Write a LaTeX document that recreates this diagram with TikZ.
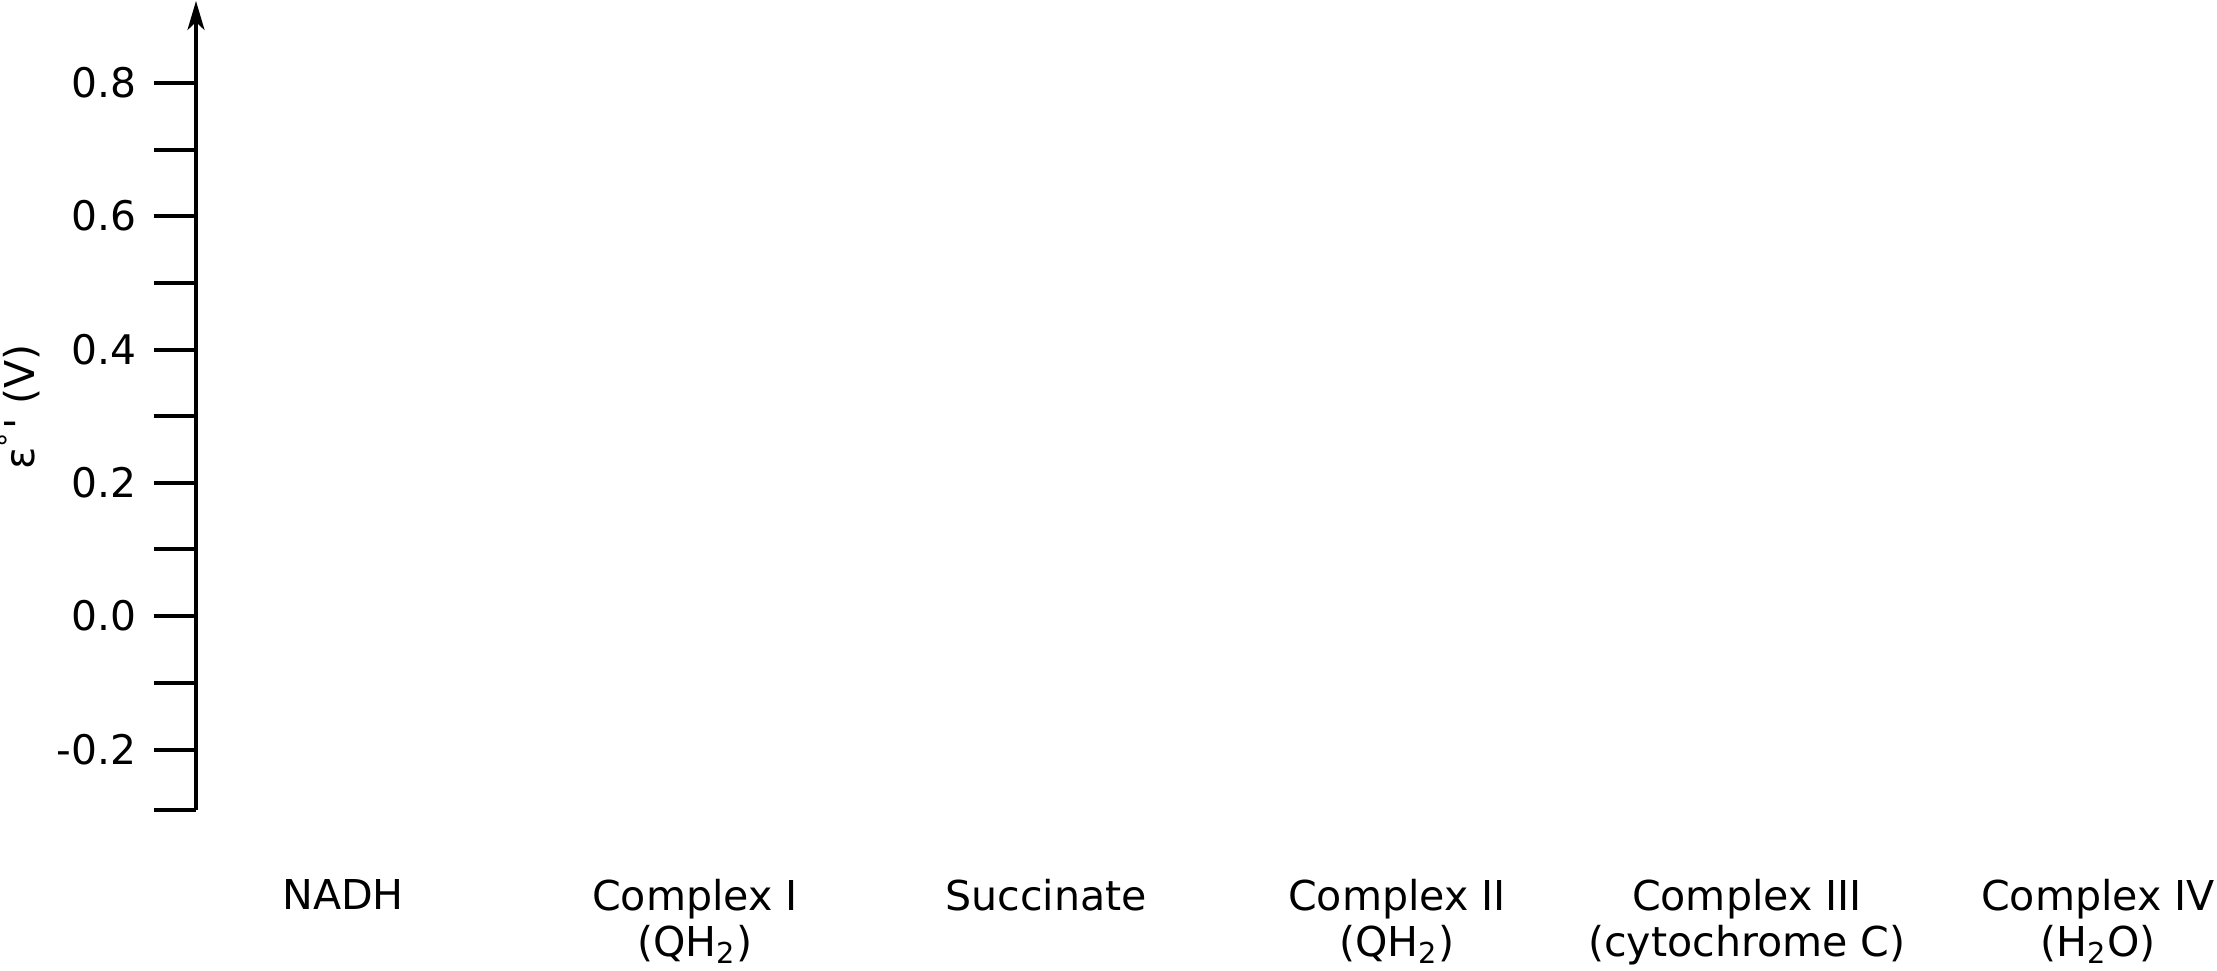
\documentclass[tikz,border=0pt]{standalone}
\usepackage{fontspec}
\setmainfont{DejaVu Sans}
\usetikzlibrary{arrows.meta}
\begin{document}
\begin{tikzpicture}[x=0.01cm,y=-0.01cm,
  axisline/.style={line width=1pt, line cap=butt},
  tickline/.style={line width=0.9pt},
  ticklabel/.style={anchor=east, inner sep=0pt, font=\fontsize{11.6}{13}\selectfont},
  catlabel/.style={anchor=north, inner sep=0pt, align=center, font=\fontsize{11.7}{12.9}\selectfont},
  ylabel/.style={rotate=90, inner sep=0pt, font=\fontsize{11.7}{13}\selectfont}]
\useasboundingbox (0,0) rectangle (2217,971);
% axis
\coordinate (axbot) at (196,810);
\coordinate (axtop) at (196,1);
\draw[axisline, -{Stealth[length=0.29cm,width=0.17cm,inset=0.08cm]}] (axbot) -- (axtop);
% ticks
\foreach \i/\yy in {a/83,b/150,c/216,d/283,e/350,f/416,g/483,h/549,i/616,j/683,k/750,l/810}{
  \coordinate (tl\i) at (154,\yy);
  \coordinate (tr\i) at (196,\yy);
  \draw[tickline] (tl\i) -- (tr\i);
}
% tick labels
\node[ticklabel] (l08) at (137,83) {0.8};
\node[ticklabel] (l06) at (137,216) {0.6};
\node[ticklabel] (l04) at (137,350) {0.4};
\node[ticklabel] (l02) at (137,483) {0.2};
\node[ticklabel] (l00) at (137,616) {0.0};
\node[ticklabel] (lm02) at (137,750) {-0.2};
% axis title
\node[ylabel] (ytitle) at (19,407) {ε\textsuperscript{°}\kern0.05em\textquotesingle{} (V)};
% category labels
\node[catlabel] (nadh) at (343,879) {NADH};
\node[catlabel] (c1) at (695,879) {Complex I\\(QH\textsubscript{2})};
\node[catlabel] (succ) at (1046,879) {Succinate};
\node[catlabel] (c2) at (1397,879) {Complex II\\(QH\textsubscript{2})};
\node[catlabel] (c3) at (1747,879) {Complex III\\(cytochrome C)};
\node[catlabel] (c4) at (2098,879) {Complex IV\\(H\textsubscript{2}O)};
\end{tikzpicture}
\end{document}
